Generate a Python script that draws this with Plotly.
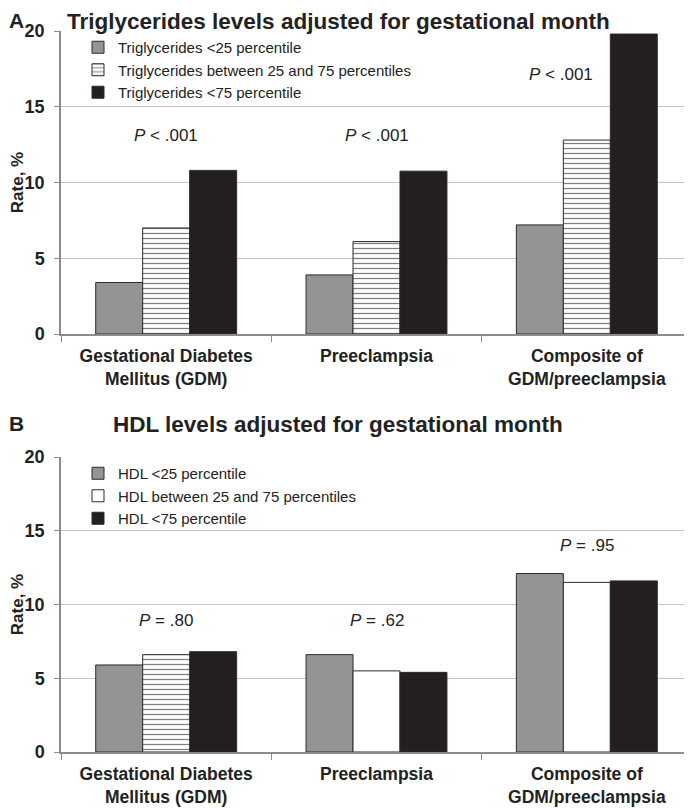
import plotly.graph_objects as go

categories = ["Gestational Diabetes<br>Mellitus (GDM)", "Preeclampsia", "Composite of<br>GDM/preeclampsia"]

tg_names = ["Triglycerides <25 percentile",
            "Triglycerides between 25 and 75 percentiles",
            "Triglycerides <75 percentile"]
tg_low = [3.4, 3.9, 7.2]
tg_mid = [7.0, 6.1, 12.8]
tg_high = [10.8, 10.75, 19.8]
tg_p = ["<i>P</i> < .001", "<i>P</i> < .001", "<i>P</i> < .001"]
tg_p_y = [13.1, 13.1, 17.1]

hdl_names = ["HDL <25 percentile",
             "HDL between 25 and 75 percentiles",
             "HDL <75 percentile"]
hdl_low = [5.9, 6.6, 12.1]
hdl_mid = [6.6, 5.5, 11.5]
hdl_high = [6.8, 5.4, 11.6]
# only the GDM bar of the middle HDL group is hatched in the original
hdl_mid_hatched = [True, False, False]
hdl_p = ["<i>P</i> = .80", "<i>P</i> = .62", "<i>P</i> = .95"]
hdl_p_y = [8.9, 8.9, 14.0]

GRAY = "#949496"
BLACK = "#231f20"
EDGE = "#2b2b2b"
FONT = "Liberation Sans, Arial, sans-serif"
TXT = "#222"

# the page adds an 8px body margin, so lay out in a slightly smaller frame
W, H = 684, 803

fig = go.Figure()

edge = dict(color=EDGE, width=1)
hatch = dict(shape="-", fgcolor="black", bgcolor="white", size=5, solidity=0.25)

# panel A
fig.add_trace(go.Bar(x=categories, y=tg_low, name=tg_names[0], xaxis="x", yaxis="y", legend="legend",
                     offsetgroup="a1", marker=dict(color=GRAY, line=edge)))
fig.add_trace(go.Bar(x=categories, y=tg_mid, name=tg_names[1], xaxis="x", yaxis="y", legend="legend",
                     offsetgroup="a2", marker=dict(color="white", line=edge, pattern=hatch)))
fig.add_trace(go.Bar(x=categories, y=tg_high, name=tg_names[2], xaxis="x", yaxis="y", legend="legend",
                     offsetgroup="a3", marker=dict(color=BLACK, line=edge)))

# panel B
plain_x = [c for c, h in zip(categories, hdl_mid_hatched) if not h]
plain_y = [v for v, h in zip(hdl_mid, hdl_mid_hatched) if not h]
hat_x = [c for c, h in zip(categories, hdl_mid_hatched) if h]
hat_y = [v for v, h in zip(hdl_mid, hdl_mid_hatched) if h]
fig.add_trace(go.Bar(x=categories, y=hdl_low, name=hdl_names[0], xaxis="x2", yaxis="y2", legend="legend2",
                     offsetgroup="b1", marker=dict(color=GRAY, line=edge)))
fig.add_trace(go.Bar(x=plain_x, y=plain_y, name=hdl_names[1], xaxis="x2", yaxis="y2", legend="legend2",
                     offsetgroup="b2", marker=dict(color="white", line=edge)))
fig.add_trace(go.Bar(x=categories, y=hdl_high, name=hdl_names[2], xaxis="x2", yaxis="y2", legend="legend2",
                     offsetgroup="b3", marker=dict(color=BLACK, line=edge)))
fig.add_trace(go.Bar(x=hat_x, y=hat_y, name=hdl_names[1], xaxis="x2", yaxis="y2", showlegend=False,
                     offsetgroup="b2", marker=dict(color="white", line=edge, pattern=hatch)))

x_dom = [53 / W, 1.0]
dom_a = [1 - 326 / H, 1 - 23 / H]
dom_b = [1 - 744 / H, 1 - 449 / H]

xcommon = dict(type="category", domain=x_dom, showline=True, linecolor="#8c8c8c", linewidth=1.5,
               ticks="outside", tickson="boundaries", ticklen=6, tickcolor="#8c8c8c",
               showgrid=False, automargin=False, categoryorder="array", categoryarray=categories,
               ticklabelstandoff=5,
               tickfont=dict(family=FONT, size=17.5, color=TXT, weight="bold"))
ycommon = dict(range=[0, 20], tickvals=[0, 5, 10, 15, 20], showline=True, linecolor="#8c8c8c",
               linewidth=1.5, ticks="outside", ticklen=5, tickcolor="#8c8c8c", showgrid=True,
               gridcolor="#c4c4c4", gridwidth=1, zeroline=False, automargin=False,
               ticklabelstandoff=6,
               tickfont=dict(family=FONT, size=18, color=TXT, weight="bold"),
               title=dict(text="<b>Rate, %</b>", font=dict(family=FONT, size=17, color=TXT),
                          standoff=4))

leg = dict(xanchor="left", yanchor="top", bgcolor="rgba(0,0,0,0)",
           font=dict(family=FONT, size=15, color=TXT), tracegroupgap=0, itemwidth=30)

fig.update_layout(
    width=W, height=H,
    margin=dict(l=0, r=0, t=0, b=0),
    plot_bgcolor="white", paper_bgcolor="white",
    barmode="group", bargap=0.33, bargroupgap=0,
    xaxis=dict(xcommon, anchor="y"),
    yaxis=dict(ycommon, domain=dom_a, anchor="x"),
    xaxis2=dict(xcommon, anchor="y2"),
    yaxis2=dict(ycommon, domain=dom_b, anchor="x2"),
    legend=dict(leg, x=70 / W, y=1 - 23 / H),
    legend2=dict(leg, x=70 / W, y=1 - 449 / H),
    showlegend=True,
)

# panel letters and titles
for letter, title, ypix in [("A", "Triglycerides levels adjusted for gestational month", 0),
                            ("B", "HDL levels adjusted for gestational month", 403)]:
    fig.add_annotation(text=f"<b>{letter}</b>", x=0, y=1 - ypix / H, xref="paper", yref="paper",
                       xanchor="left", yanchor="top", showarrow=False, borderpad=0,
                       font=dict(family=FONT, size=21, color=TXT))
    fig.add_annotation(text=f"<b>{title}</b>", x=330 / W, y=1 - ypix / H, xref="paper", yref="paper",
                       xanchor="center", yanchor="top", showarrow=False, borderpad=0,
                       font=dict(family=FONT, size=22.5, color=TXT))

# p-values (the composite triglyceride label sits left of the tall bar)
p_shift = [0, 0, -26]
for xa, ya, ptxt, py, shifts in [("x", "y", tg_p, tg_p_y, p_shift), ("x2", "y2", hdl_p, hdl_p_y, [0, 0, 0])]:
    for c, t, yv, s in zip(categories, ptxt, py, shifts):
        fig.add_annotation(text=t, x=c, y=yv, xref=xa, yref=ya, showarrow=False, xshift=s,
                           font=dict(family=FONT, size=17, color=TXT))

fig.write_html("out.html")
